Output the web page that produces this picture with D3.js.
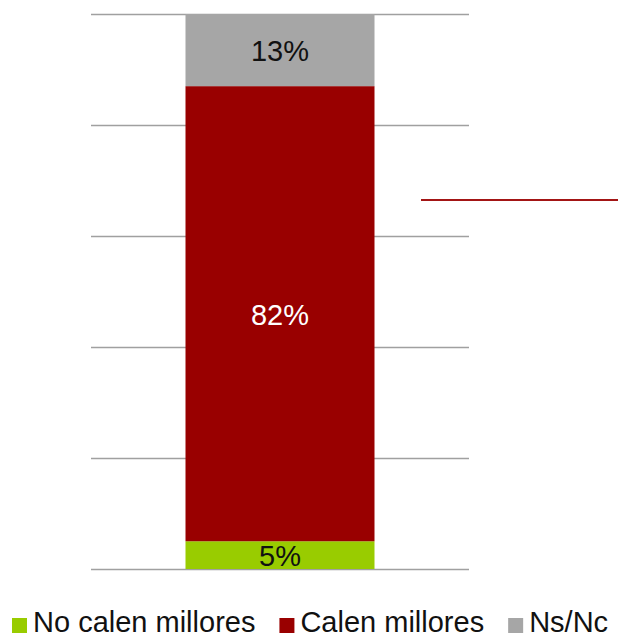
<!DOCTYPE html>
<html>
<head>
<meta charset="utf-8">
<script src="https://cdn.jsdelivr.net/npm/d3@7"></script>
<style>
  html, body { margin: 0; padding: 0; background: #fff; }
  svg { display: block; font-family: "Liberation Sans", Arial, sans-serif; }
</style>
</head>
<body>
<svg id="chart" width="618" height="638"></svg>
<script>
// ---- data ----
const categories = ["No calen millores", "Calen millores", "Ns/Nc"];
const values = [5, 82, 13];
const colors = ["#99cc00", "#990000", "#a6a6a6"];
const labelColors = ["#111111", "#ffffff", "#111111"];
const barGroups = ["Total"];
const yTicks = [0, 20, 40, 60, 80, 100];
const leaderLineValue = 66.5;

// ---- layout ----
const svg = d3.select("#chart");
const plot = { left: 91, right: 469, top: 14, bottom: 569 };

const x = d3.scaleBand().domain(barGroups)
  .range([plot.left, plot.right]).paddingInner(0.5).paddingOuter(0.25);
const y = d3.scaleLinear().domain([0, 100]).range([plot.bottom, plot.top]);

// gridlines
const grid = svg.append("g").attr("transform", `translate(${plot.left},0)`)
  .call(d3.axisLeft(y).tickValues(yTicks).tickSize(-(plot.right - plot.left)).tickFormat(""));
grid.select(".domain").remove();
grid.selectAll(".tick line").attr("stroke", "#a0a0a0").attr("stroke-width", 1.5);

// stacked segments
let acc = 0;
const segs = values.map((v, i) => { const s = { cat: categories[i], v, y0: acc, y1: acc + v, i }; acc += v; return s; });

svg.append("g").selectAll("rect").data(segs).join("rect")
  .attr("x", x("Total"))
  .attr("width", x.bandwidth())
  .attr("y", d => y(d.y1))
  .attr("height", d => y(d.y0) - y(d.y1))
  .attr("fill", d => colors[d.i]);

svg.append("g").selectAll("text").data(segs).join("text")
  .attr("x", x("Total") + x.bandwidth() / 2)
  .attr("y", d => (y(d.y0) + y(d.y1)) / 2 + 11)
  .attr("text-anchor", "middle")
  .attr("font-size", 29)
  .attr("fill", d => labelColors[d.i])
  .text(d => d.v + "%");

// stray leader line
svg.append("line")
  .attr("x1", 421).attr("x2", 618)
  .attr("y1", y(leaderLineValue)).attr("y2", y(leaderLineValue))
  .attr("stroke", "#a31515").attr("stroke-width", 2);

// legend
const legend = svg.append("g");
let lx = 12;
categories.forEach((c, i) => {
  const g = legend.append("g");
  g.append("rect").attr("x", lx).attr("y", 618).attr("width", 15).attr("height", 15).attr("fill", colors[i]);
  const t = g.append("text").attr("x", lx + 21).attr("y", 631.5)
    .attr("font-size", 29).attr("fill", "#111").text(c);
  const w = t.node().getComputedTextLength();
  lx = lx + 21 + w + 24;
});
</script>
</body>
</html>
